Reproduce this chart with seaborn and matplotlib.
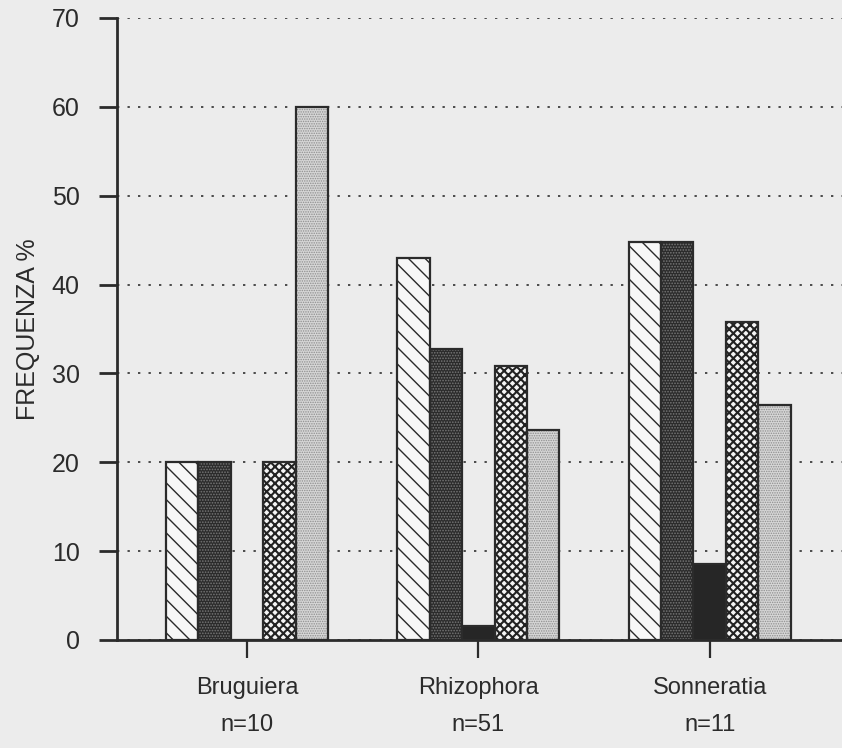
import matplotlib
matplotlib.use("Agg")
import matplotlib.pyplot as plt
import seaborn as sns
import pandas as pd

# Frequency (%) of each class per genus
categories = ["Bruguiera", "Rhizophora", "Sonneratia"]
sample_sizes = [10, 51, 11]
classe_1 = [20.0, 43.0, 44.8]
classe_2 = [20.0, 32.8, 44.8]
classe_3 = [0.0, 1.6, 8.5]
classe_4 = [20.0, 30.8, 35.8]
classe_5 = [60.0, 23.6, 26.5]
class_names = ["1", "2", "3", "4", "5"]
y_ticks = [0, 10, 20, 30, 40, 50, 60, 70]

series = [classe_1, classe_2, classe_3, classe_4, classe_5]
df = pd.DataFrame({
    "genere": [c for _ in series for c in categories],
    "classe": [name for name, s in zip(class_names, series) for _ in s],
    "freq": [v for s in series for v in s],
})

# fill, hatch colour, hatch pattern, hatch line width for each class
fills = ["#f7f7f7", "#2b2b2b", "#262626", "#f4f4f4", "#d6d6d6"]
hatch_colors = ["#2a2a2a", "#777777", "#262626", "#222222", "#8e8e8e"]
hatches = ["\\\\", "......", "", "xxxx", "......."]
hatch_widths = [1.0, 0.8, 0.5, 1.5, 0.7]

sns.set_theme(style="white")
plt.rcParams["font.family"] = ["Liberation Sans", "DejaVu Sans"]
ink = "#2b2b2b"

fig = plt.figure(figsize=(8.42, 7.48), dpi=100, facecolor="#ececec")
ax = fig.add_axes([0.139, 0.1444, 0.861, 0.8316])
ax.set_facecolor("#ececec")

sns.barplot(data=df, x="genere", y="freq", hue="classe", order=categories,
            hue_order=class_names, palette=fills, width=0.7, linewidth=0,
            legend=False, ax=ax, zorder=2)
for i, cont in enumerate(ax.containers):
    for p in cont:
        p.set_edgecolor(hatch_colors[i])
        p.set_linewidth(0)
        p.set_hatch(hatches[i])
        if hasattr(p, "set_hatch_linewidth"):
            p.set_hatch_linewidth(hatch_widths[i])

# outlines on top of the hatched fills
sns.barplot(data=df, x="genere", y="freq", hue="classe", order=categories,
            hue_order=class_names, palette=[ink] * 5, width=0.7, fill=False,
            linewidth=1.6, legend=False, ax=ax, zorder=3)

ax.set_ylim(0, 70)
ax.set_xlim(-0.562, 2.572)
ax.set_yticks(y_ticks)
ax.set_xticks(range(len(categories)))
ax.set_xticklabels([f"{c}\nn={n}" for c, n in zip(categories, sample_sizes)],
                   linespacing=1.85)

ax.set_axisbelow(True)
ax.yaxis.grid(True, linestyle=(0, (1.2, 4.2)), linewidth=1.4, color="#4a4a4a")
ax.xaxis.grid(False)

for side in ["top", "right"]:
    ax.spines[side].set_visible(False)
for side in ["left", "bottom"]:
    ax.spines[side].set_color(ink)
    ax.spines[side].set_linewidth(2)

ax.tick_params(axis="y", direction="out", length=13, width=2, color=ink,
               pad=14, labelsize=18, labelcolor=ink, left=True)
ax.tick_params(axis="x", direction="out", length=13, width=1.6, color=ink,
               pad=14, labelsize=17, labelcolor=ink, bottom=True)

ax.set_xlabel("")
ax.set_ylabel("FREQUENZA %", fontsize=18, color=ink)
ax.yaxis.set_label_coords(-0.106, 0.5)

fig.savefig("out.png", dpi=100, facecolor=fig.get_facecolor())
